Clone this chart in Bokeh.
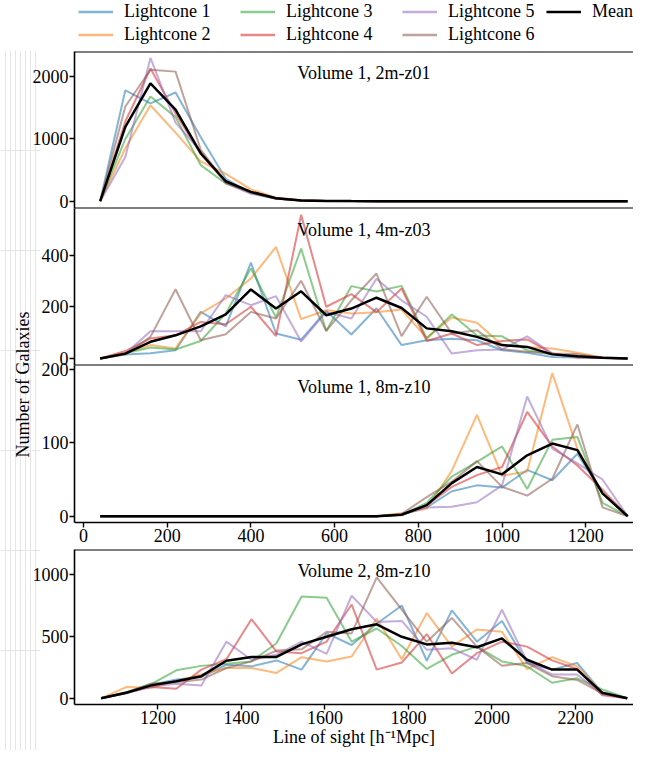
from bokeh.plotting import figure
from bokeh.layouts import column, row
from bokeh.models import Range1d, Span, Label, Legend, LegendItem, FixedTicker
from bokeh.embed import file_html
from bokeh.resources import INLINE

FONT = "Liberation Serif"
FS = "18px"
COLORS = ["#1f77b4", "#ff7f0e", "#2ca02c", "#d62728", "#9467bd", "#8c564b"]
LABELS = ["Lightcone 1", "Lightcone 2", "Lightcone 3", "Lightcone 4", "Lightcone 5", "Lightcone 6"]
ALPHA = 0.55
LW = 2.0
NAN = float("nan")

# ---------------- data ----------------
x_v1 = [40, 100, 160, 220, 280, 340, 400, 460, 520, 580, 640, 700,
        760, 820, 880, 940, 1000, 1060, 1120, 1180, 1240, 1300]
x_v2 = [1064, 1124, 1184, 1244, 1304, 1364, 1424, 1484, 1544, 1604, 1664,
        1724, 1784, 1844, 1904, 1964, 2024, 2084, 2144, 2204, 2264, 2324]

# Volume 1, 2m-z01
a_lc1 = [0, 1780, 1570, 1745, 1030, 360, 130, 45, 12, 4, 2, 1, 0, 0, 0, 0, 0, 0, 0, 0, 0, 0]
a_lc2 = [0, 850, 1540, 1100, 640, 440, 190, 55, 15, 5, 2, 1, 0, 0, 0, 0, 0, 0, 0, 0, 0, 0]
a_lc3 = [0, 1000, 1680, 1350, 580, 285, 140, 45, 12, 4, 2, 0, 0, 0, 0, 0, 0, 0, 0, 0, 0, 0]
a_lc4 = [0, 1280, 2130, 1410, 760, 300, 150, 50, 14, 5, 2, 0, 0, 0, 0, 0, 0, 0, 0, 0, 0, 0]
a_lc5 = [0, 710, 2300, 1260, 800, 290, 120, 40, 10, 3, 1, 0, 0, 0, 0, 0, 0, 0, 0, 0, 0, 0]
a_lc6 = [0, 1520, 2110, 2080, 830, 300, 140, 45, 12, 4, 2, 0, 0, 0, 0, 0, 0, 0, 0, 0, 0, 0]
a_mean = [0, 1195, 1890, 1470, 770, 320, 150, 47, 13, 4, 2, 1, 0, 0, 0, 0, 0, 0, 0, 0, 0, 0]

# Volume 1, 4m-z03
b_lc1 = [0, 16, 20, 32, 181, 125, 372, 97, 73, 185, 93, 195, 52, 71, 77, 71, 32, 22, 6, 4, 3, 0]
b_lc2 = [0, 22, 52, 39, 175, 233, 311, 433, 153, 188, 175, 180, 190, 80, 159, 139, 52, 45, 39, 22, 4, 1]
b_lc3 = [0, 20, 43, 35, 68, 175, 350, 159, 427, 107, 281, 260, 282, 78, 171, 89, 86, 32, 16, 9, 3, 0]
b_lc4 = [0, 29, 78, 90, 142, 133, 201, 87, 558, 201, 250, 180, 272, 68, 97, 52, 68, 74, 19, 4, 2, 0]
b_lc5 = [0, 18, 106, 106, 106, 246, 207, 242, 66, 181, 155, 310, 226, 162, 19, 32, 35, 86, 19, 6, 3, 0]
b_lc6 = [0, 15, 84, 269, 71, 94, 181, 155, 302, 107, 226, 330, 87, 240, 97, 110, 36, 26, 19, 17, 3, 0]
b_mean = [0, 19, 65, 90, 125, 171, 268, 194, 261, 168, 194, 236, 196, 117, 106, 84, 52, 45, 16, 9, 3, 0]

# Volume 1, 8m-z10
c_lc1 = [0, 0, 0, 0, 0, 0, 0, 0, 0, 0, 0, 0, 2, 12, 34, 42, 39, 63, 49, 85, 31, 0]
c_lc2 = [0, 0, 0, 0, 0, 0, 0, 0, 0, 0, 0, 0, 4, 10, 62, 138, 55, 61, 195, 92, 31, 0]
c_lc3 = [0, 0, 0, 0, 0, 0, 0, 0, 0, 0, 0, 0, 2, 18, 54, 74, 95, 37, 104, 108, 18, 0]
c_lc4 = [0, 0, 0, 0, 0, 0, 0, 0, 0, 0, 0, 0, 2, 15, 40, 56, 67, 142, 95, 69, 36, 0]
c_lc5 = [0, 0, 0, 0, 0, 0, 0, 0, 0, 0, 0, 0, 2, 12, 13, 19, 42, 163, 92, 72, 50, 0]
c_lc6 = [0, 0, 0, 0, 0, 0, 0, 0, 0, 0, 0, 0, 3, 26, 47, 75, 40, 28, 51, 125, 12, 0]
c_mean = [0, 0, 0, 0, 0, 0, 0, 0, 0, 0, 0, 0, 2, 15, 45, 67, 57, 83, 99, 90, 31, 0]

# Volume 2, 8m-z10
d_lc1 = [0, 40, 110, 151, 172, 270, 257, 305, 231, 522, 429, 600, 747, 302, 708, 456, 623, 284, 231, 284, 45, 0]
d_lc2 = [0, 90, 85, 138, 191, 244, 244, 204, 331, 297, 337, 642, 315, 686, 416, 554, 535, 235, 331, 257, 45, 0]
d_lc3 = [0, 50, 115, 225, 261, 278, 297, 443, 820, 810, 456, 562, 421, 236, 350, 416, 297, 257, 125, 161, 72, 0]
d_lc4 = [0, 45, 90, 77, 231, 315, 637, 376, 363, 456, 755, 231, 288, 517, 199, 363, 456, 416, 305, 236, 24, 0]
d_lc5 = [0, 40, 95, 117, 103, 456, 310, 350, 456, 357, 826, 615, 623, 390, 403, 310, 713, 297, 191, 191, 32, 0]
d_lc6 = [0, 45, 120, 130, 151, 244, 297, 384, 394, 535, 522, 973, 713, 455, 647, 416, 262, 284, 178, 148, 40, 0]
d_mean = [0, 45, 104, 138, 178, 302, 333, 333, 434, 495, 556, 596, 495, 434, 448, 411, 482, 310, 231, 231, 45, 0]

titles = ["Volume 1, 2m-z01", "Volume 1, 4m-z03", "Volume 1, 8m-z10", "Volume 2, 8m-z10"]
yticks_a = [0, 1000, 2000]
yticks_b = [0, 200, 400]
yticks_c = [0, 100, 200]
yticks_d = [0, 500, 1000]
xticks_v1 = [0, 200, 400, 600, 800, 1000, 1200]
xticks_v2 = [1200, 1400, 1600, 1800, 2000, 2200]

# ---------------- layout constants ----------------
YL_W = 29        # layout width of the y-label strip
YL_EXTRA = 11    # extra (transparent) width of the strip that slides under the panels
PW = 633 - YL_W  # panel figure width
LEFT = 43        # left border (y tick labels)
FRAME_H = 157
LEG_H = 50
ITEM_H = 23
E = 9            # transparent overlap border between stacked panels


def style_axis(ax):
    ax.major_label_text_font = FONT
    ax.major_label_text_font_size = FS
    ax.major_label_text_color = "black"
    ax.axis_line_color = "black"
    ax.axis_line_width = 1.6
    ax.major_tick_line_color = "black"
    ax.major_tick_line_width = 1.4
    ax.major_tick_in = 0
    ax.major_tick_out = 5
    ax.minor_tick_in = 0
    ax.minor_tick_out = 0
    ax.major_label_standoff = 1
    ax.axis_label_text_font = FONT
    ax.axis_label_text_font_size = FS
    ax.axis_label_text_font_style = "normal"
    ax.axis_label_text_color = "black"


def make_panel(x, series, mean, xr, yr, yticks, title, title_x, border_top, border_bottom,
               frame_h=FRAME_H, xticks=None, xlabel=None, top_line=False, bottom_line=False):
    p = figure(width=PW, height=frame_h + border_top + border_bottom,
               x_range=Range1d(*xr), y_range=Range1d(*yr),
               output_backend="svg", toolbar_location=None,
               min_border_left=LEFT, min_border_right=0, min_border_top=border_top,
               min_border_bottom=border_bottom,
               x_axis_location=None if xticks is None else "below")
    p.outline_line_color = None
    p.border_fill_alpha = 0
    p.background_fill_alpha = 0
    p.grid.visible = False
    for s, c in zip(series, COLORS):
        p.line(x, s, line_color=c, line_alpha=ALPHA, line_width=LW)
    p.line(x, mean, line_color="black", line_width=2.5)
    if top_line:
        p.add_layout(Span(location=yr[1], dimension="width", line_color="black", line_width=2))
    if bottom_line:
        p.add_layout(Span(location=yr[0], dimension="width", line_color="black", line_width=2))
    ty = yr[1] - 21 * (yr[1] - yr[0]) / frame_h
    p.add_layout(Label(x=title_x, y=ty, text=title, text_align="center",
                       text_baseline="alphabetic", text_font=FONT,
                       text_font_size=FS, text_color="black"))
    p.yaxis.ticker = FixedTicker(ticks=yticks)
    style_axis(p.yaxis[0])
    if xticks is not None:
        p.xaxis.ticker = FixedTicker(ticks=xticks)
        style_axis(p.xaxis[0])
        if xlabel:
            p.xaxis.axis_label = xlabel
            p.xaxis.axis_label_standoff = 0
    return p


xr1 = (-21.4, 1314)
xr2 = (1000.2, 2339)
p1 = make_panel(x_v1, [a_lc1, a_lc2, a_lc3, a_lc4, a_lc5, a_lc6], a_mean, xr1,
                (-117, 2403), yticks_a, titles[0], 670, 1, E, top_line=True, bottom_line=True)
p2 = make_panel(x_v1, [b_lc1, b_lc2, b_lc3, b_lc4, b_lc5, b_lc6], b_mean, xr1,
                (-27.2, 582.5), yticks_b, titles[1], 670, E, E, bottom_line=True)
p3 = make_panel(x_v1, [c_lc1, c_lc2, c_lc3, c_lc4, c_lc5, c_lc6], c_mean, xr1,
                (-8.6, 205.3), yticks_c, titles[2], 670, E, 26, xticks=xticks_v1)
p4 = make_panel(x_v2, [d_lc1, d_lc2, d_lc3, d_lc4, d_lc5, d_lc6], d_mean, xr2,
                (-50, 1198), yticks_d, titles[3], 1693.6, 1, 46, frame_h=FRAME_H - 2,
                xticks=xticks_v2, xlabel="Line of sight [h\u207b\u00b9Mpc]", top_line=True)

# stacked panels share their borders: overlap the transparent margins
p2.styles = {"margin-top": f"-{2 * E}px"}
p3.styles = {"margin-top": f"-{2 * E}px"}

panels = [p1, p2, p3, p4]
panels_h = sum(p.height for p in panels) - 4 * E

# y label strip (its extra width slides under the panels' transparent left border)
yl_w = YL_W + YL_EXTRA
yl = figure(width=yl_w, height=panels_h, x_range=Range1d(0, yl_w), y_range=Range1d(0, panels_h),
            output_backend="svg", toolbar_location=None, min_border=0,
            x_axis_location=None, y_axis_location=None)
yl.outline_line_color = None
yl.border_fill_alpha = 0
yl.background_fill_alpha = 0
yl.styles = {"margin-right": f"-{YL_EXTRA}px"}
yl.add_layout(Label(x=22, y=panels_h - 334, text="Number of Galaxies", angle=90,
                    angle_units="deg", text_align="center", text_baseline="alphabetic",
                    text_font=FONT, text_font_size=FS, text_color="black"))

# legend strip
lg = figure(width=633, height=LEG_H, x_range=Range1d(0, 1), y_range=Range1d(0, 1),
            output_backend="svg", toolbar_location=None, min_border=0,
            x_axis_location=None, y_axis_location=None)
lg.outline_line_color = None
lg.grid.visible = False
rs = [lg.line(x=[NAN], y=[NAN], line_color=c, line_alpha=ALPHA, line_width=2.5) for c in COLORS]
rm = lg.line(x=[NAN], y=[NAN], line_color="black", line_width=2.5)


def mk_legend(items, x):
    h = ITEM_H * len(items)
    return Legend(items=items, location=(x, LEG_H - h), orientation="vertical",
                  border_line_color=None, background_fill_alpha=0, padding=0, margin=0,
                  spacing=0, glyph_width=35, glyph_height=ITEM_H, label_height=ITEM_H,
                  label_standoff=11, label_text_font=FONT, label_text_font_size=FS,
                  label_text_baseline="middle", label_text_color="black")


for grp, xpos in zip([[0, 1], [2, 3], [4, 5]], [78, 240, 402]):
    lg.add_layout(mk_legend([LegendItem(label=LABELS[i], renderers=[rs[i]]) for i in grp], xpos))
lg.add_layout(mk_legend([LegendItem(label="Mean", renderers=[rm])], 546))

layout = column(lg, row(yl, column(*panels)))

open("out.html", "w").write(file_html(layout, INLINE))
